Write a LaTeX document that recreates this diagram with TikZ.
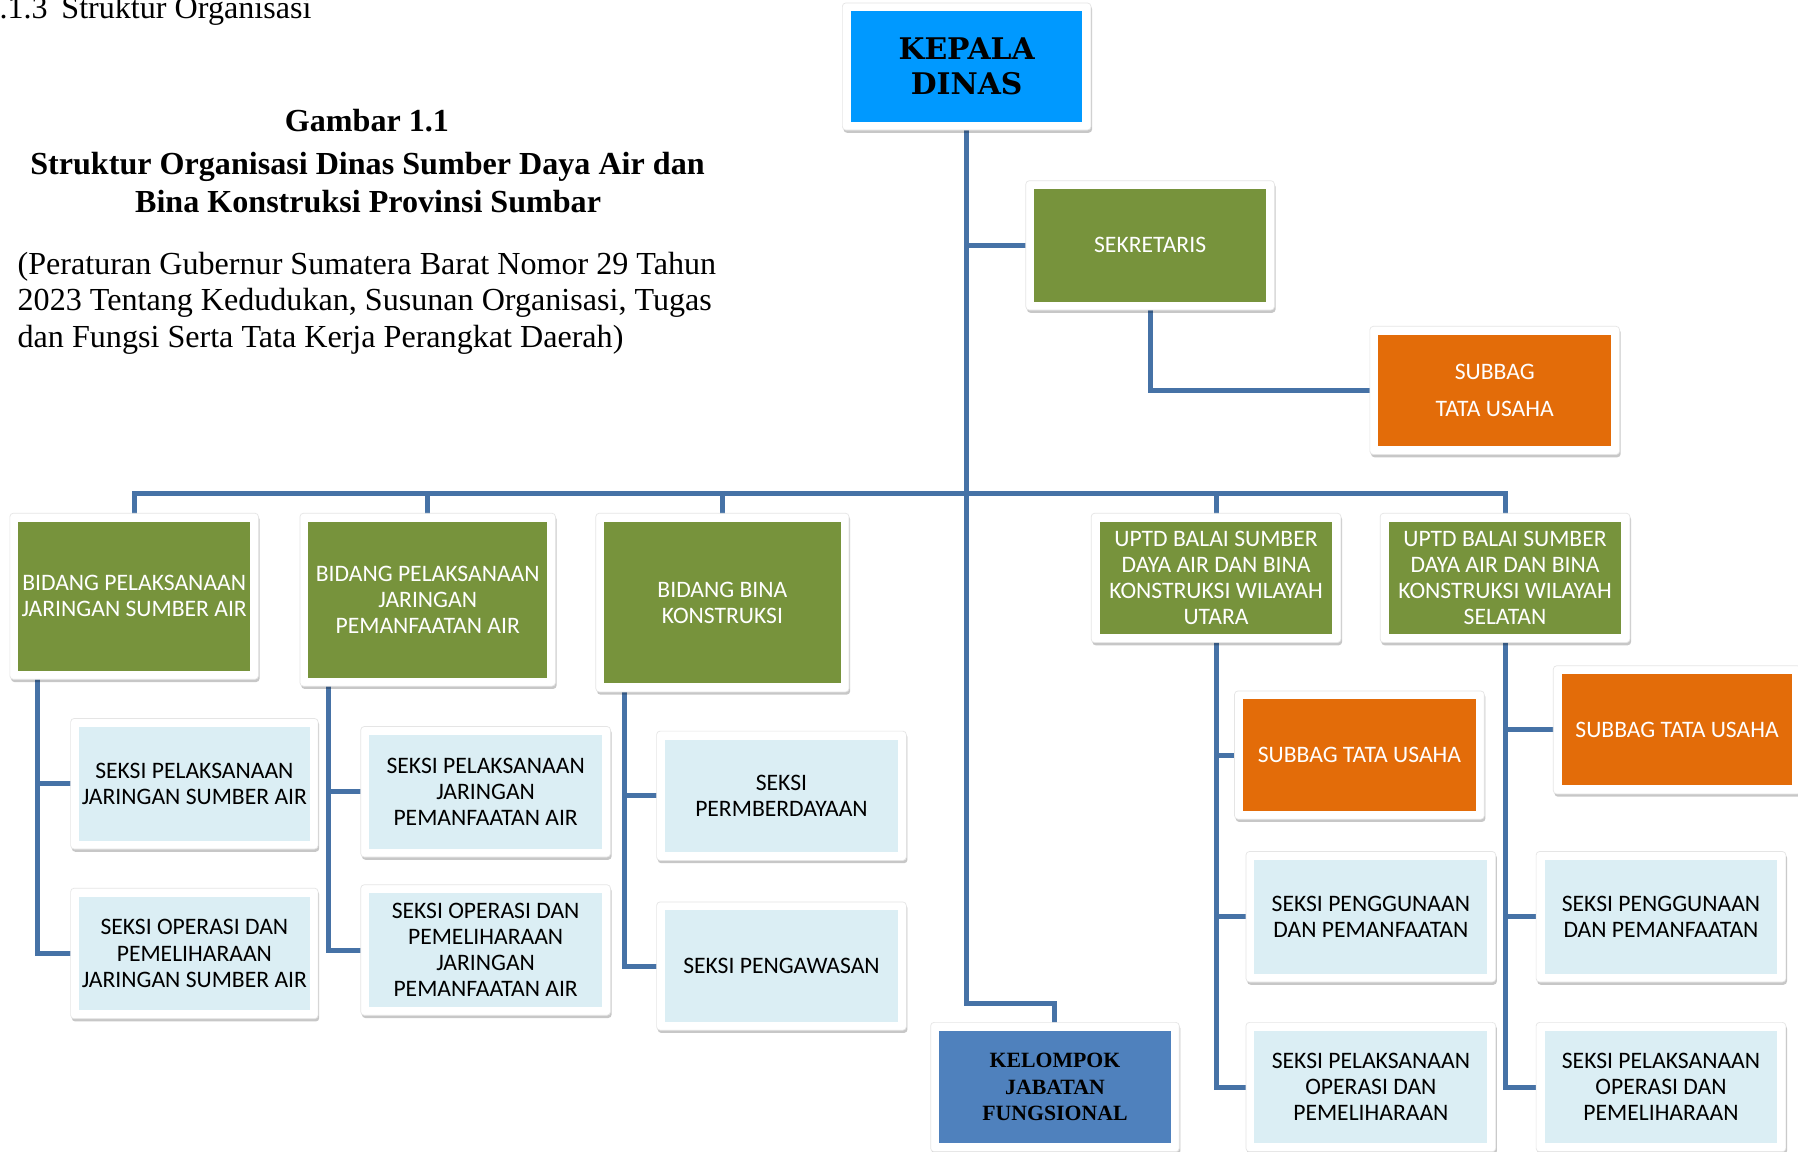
\documentclass[tikz,border=0pt]{standalone}
\usepackage{fontspec}
\setmainfont{Liberation Serif}
\newfontfamily\calfont{Carlito}
\newfontfamily\djfont{DejaVu Serif}
\usetikzlibrary{shadows}
\pgfdeclarelayer{back}
\pgfdeclarelayer{conn}
\pgfdeclarelayer{frm}
\pgfsetlayers{back,conn,frm,main}
\definecolor{cgreen}{HTML}{77933C}
\definecolor{corange}{HTML}{E36C09}
\definecolor{clblue}{HTML}{DBEEF4}
\definecolor{ckblue}{HTML}{0099FF}
\definecolor{ckel}{HTML}{4F81BD}
\definecolor{cline}{HTML}{4672A6}
\tikzset{
  box/.style={rectangle, inner sep=0pt, align=center, font=\calfont\fontsize{10.3}{11.4}\selectfont, text=white},
  gbox/.style={box, fill=cgreen},
  obox/.style={box, fill=corange},
  sbox/.style={box, fill=clblue, text=black},
  kbox/.style={box, fill=ckblue, text=black, font=\djfont\bfseries\fontsize{13}{15}\selectfont},
  kelbox/.style={box, fill=ckel, text=black, font=\bfseries\fontsize{9.5}{11.5}\selectfont},
  frame/.style={fill=white, draw=black!10, line width=0.3pt, rounded corners=1.5pt,
    drop shadow={shadow xshift=0.5pt, shadow yshift=-1.2pt, opacity=0.22, fill=black}},
  link/.style={draw=cline, line width=2.2pt},
  hd/.style={inner sep=0pt, anchor=base, font=\fontsize{14}{16}\selectfont},
  hdb/.style={hd, font=\bfseries\fontsize{14}{16}\selectfont},
}
\newcommand{\orgbox}[7]{\node[#2, minimum width=#5*0.5pt, minimum height=#6*0.5pt] (#1) at (#3,#4) {#7};}
\begin{document}
\begin{tikzpicture}[x=0.5pt, y=-0.5pt]
\useasboundingbox (0,0) rectangle (1568,1004);
\begin{pgfonlayer}{back}
\fill[white] (0,0) rectangle (1568,1004);
\end{pgfonlayer}

% heading texts
\node[hd, anchor=base east] (sec) at (272,16) {1.1.3\hspace{6pt}Struktur Organisasi};
\node[hdb] (g1) at (320,115) {Gambar 1.1};
\node[hdb] (g2) at (320.5,152) {Struktur Organisasi Dinas Sumber Daya Air dan};
\node[hdb] (g3) at (321,185) {Bina Konstruksi Provinsi Sumbar};
\node[hd, anchor=base west] (p1) at (15,239) {(Peraturan Gubernur Sumatera Barat Nomor 29 Tahun};
\node[hd, anchor=base west] (p2) at (15,271) {2023 Tentang Kedudukan, Susunan Organisasi, Tugas};
\node[hd, anchor=base west] (p3) at (15,303) {dan Fungsi Serta Tata Kerja Perangkat Daerah)};

% boxes
\orgbox{kepala}{kbox}{843}{58}{202}{96}{KEPALA\\DINAS}
\orgbox{sekretaris}{gbox}{1003}{214}{202}{98}{SEKRETARIS}
\orgbox{subbag}{obox}{1303.5}{340.5}{203}{97}{SUBBAG\\[4.6pt]TATA USAHA}
\orgbox{b1}{gbox}{117}{520}{202}{130}{BIDANG PELAKSANAAN\\JARINGAN SUMBER AIR}
\orgbox{b2}{gbox}{373}{523}{208}{136}{BIDANG PELAKSANAAN\\JARINGAN\\PEMANFAATAN AIR}
\orgbox{b3}{gbox}{630}{525.5}{206}{141}{BIDANG BINA\\KONSTRUKSI}
\orgbox{uu}{gbox}{1060.5}{504}{203}{98}{UPTD BALAI SUMBER\\DAYA AIR DAN BINA\\KONSTRUKSI WILAYAH\\UTARA}
\orgbox{us}{gbox}{1312.5}{504}{203}{98}{UPTD BALAI SUMBER\\DAYA AIR DAN BINA\\KONSTRUKSI WILAYAH\\SELATAN}
\orgbox{s1a}{sbox}{169.5}{683.5}{201}{99}{SEKSI PELAKSANAAN\\JARINGAN SUMBER AIR}
\orgbox{s1b}{sbox}{169.5}{831.5}{201}{99}{SEKSI OPERASI DAN\\PEMELIHARAAN\\JARINGAN SUMBER AIR}
\orgbox{s2a}{sbox}{423.5}{690.5}{203}{99}{SEKSI PELAKSANAAN\\JARINGAN\\PEMANFAATAN AIR}
\orgbox{s2b}{sbox}{423.5}{828.5}{203}{99}{SEKSI OPERASI DAN\\PEMELIHARAAN\\JARINGAN\\PEMANFAATAN AIR}
\orgbox{s3a}{sbox}{681.5}{694}{203}{98}{SEKSI\\PERMBERDAYAAN}
\orgbox{s3b}{sbox}{681.5}{842.5}{203}{97}{SEKSI PENGAWASAN}
\orgbox{kel}{kelbox}{920}{948}{202}{98}{KELOMPOK\\JABATAN\\FUNGSIONAL}
\orgbox{subu}{obox}{1185.5}{658.5}{203}{97}{SUBBAG TATA USAHA}
\orgbox{pu}{sbox}{1195.5}{799.5}{203}{99}{SEKSI PENGGUNAAN\\DAN PEMANFAATAN}
\orgbox{plu}{sbox}{1195.5}{948}{203}{98}{SEKSI PELAKSANAAN\\OPERASI DAN\\PEMELIHARAAN}
\orgbox{subs}{obox}{1462.5}{636.5}{201}{97}{SUBBAG TATA USAHA}
\orgbox{ps}{sbox}{1448.5}{799.5}{203}{99}{SEKSI PENGGUNAAN\\DAN PEMANFAATAN}
\orgbox{pls}{sbox}{1448.5}{948}{203}{98}{SEKSI PELAKSANAAN\\OPERASI DAN\\PEMELIHARAAN}

% frames
\begin{pgfonlayer}{frm}
\foreach \n in {kepala,sekretaris,subbag,b1,b2,b3,uu,us,s1a,s1b,s2a,s2b,s3a,s3b,kel,subu,pu,plu,subs,ps,pls}{
  \path[frame] ([shift={(-3.5pt,3.5pt)}]\n.north west) rectangle ([shift={(3.5pt,-3.5pt)}]\n.south east);
}
\end{pgfonlayer}

% connectors
\coordinate (kbend) at (843,875);
\coordinate (bus) at (843,430);
\begin{pgfonlayer}{conn}
\draw[link] (kepala.south) -- (kbend) -| (kel.north);
\draw[link] (kepala.south |- sekretaris.west) -- (sekretaris.west);
\draw[link] (sekretaris.south) |- (subbag.west);
\foreach \n in {b1,b2,b3,uu,us}{\draw[link] (\n.north) |- (bus);}
\draw[link] ([xshift=8.5pt]b1.south west) |- (s1a.west);
\draw[link] ([xshift=8.5pt]b1.south west) |- (s1b.west);
\draw[link] ([xshift=9pt]b2.south west) |- (s2a.west);
\draw[link] ([xshift=9pt]b2.south west) |- (s2b.west);
\draw[link] ([xshift=9pt]b3.south west) |- (s3a.west);
\draw[link] ([xshift=9pt]b3.south west) |- (s3b.west);
\draw[link] (uu.south) |- (subu.west);
\draw[link] (uu.south) |- (pu.west);
\draw[link] (uu.south) |- (plu.west);
\draw[link] (us.south) |- (subs.west);
\draw[link] (us.south) |- (ps.west);
\draw[link] (us.south) |- (pls.west);
\end{pgfonlayer}
\end{tikzpicture}
\end{document}
